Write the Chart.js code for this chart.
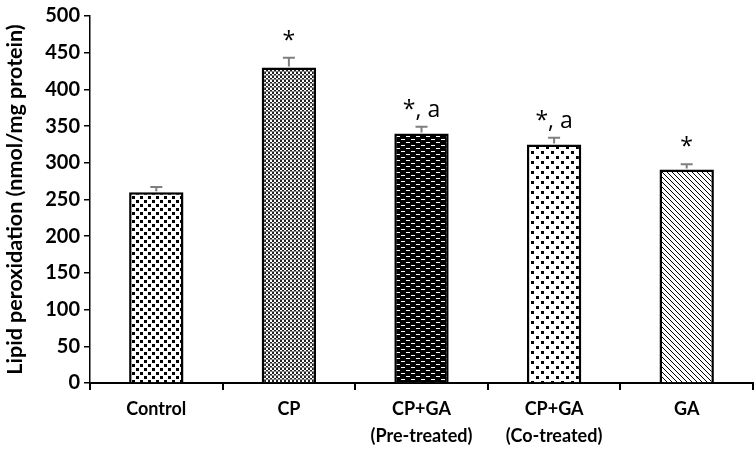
<!DOCTYPE html>
<html>
<head>
<meta charset="utf-8">
<script src="https://cdn.jsdelivr.net/npm/chart.js@4"></script>
<style>
  html, body { margin: 0; padding: 0; background: #fff; }
  #wrap { width: 756px; height: 451px; }
</style>
</head>
<body>
<div id="wrap"><canvas id="lpoChart"></canvas></div>
<script>
const groups = [['Control'], ['CP'], ['CP+GA', '(Pre-treated)'], ['CP+GA', '(Co-treated)'], ['GA']];
const lpoValues = [260, 430, 340, 325, 291];
const lpoErrors = [7, 13, 9, 9, 7];
const marks = ['', '*', '*, a', '*, a', '*'];
const yTicks = [0, 50, 100, 150, 200, 250, 300, 350, 400, 450, 500];

const FONT = 'Lato, "Open Sans", sans-serif';

// small canvas tiles used as bar fills
function tile(w, h, draw) {
  const c = document.createElement('canvas');
  c.width = w; c.height = h;
  const g = c.getContext('2d');
  draw(g);
  return document.getElementById('lpoChart').getContext('2d').createPattern(c, 'repeat');
}

const fills = [
  // control: small staggered squares
  tile(8, 8, g => {
    g.fillStyle = '#fff'; g.fillRect(0, 0, 8, 8);
    g.fillStyle = '#000';
    g.fillRect(0, 0, 3, 3);
    g.fillRect(4, 4, 3, 3);
  }),
  // CP: fine checker
  tile(4, 4, g => {
    g.fillStyle = '#fff'; g.fillRect(0, 0, 4, 4);
    g.fillStyle = '#222';
    g.fillRect(0, 0, 2, 2);
    g.fillRect(2, 2, 2, 2);
    g.fillStyle = '#888';
    g.fillRect(0, 3, 4, 1);
  }),
  // pre-treated: black with white dashes
  tile(10, 6, g => {
    g.fillStyle = '#000'; g.fillRect(0, 0, 10, 6);
    g.fillStyle = '#fff';
    g.fillRect(1, 1, 4, 1);
    g.fillRect(6, 4, 4, 1);
  }),
  // co-treated: bigger staggered squares
  tile(10, 10, g => {
    g.fillStyle = '#fff'; g.fillRect(0, 0, 10, 10);
    g.fillStyle = '#000';
    g.fillRect(1, 1, 3, 3);
    g.fillRect(6, 6, 3, 3);
  }),
  // GA: dotted diagonal lines
  tile(5, 5, g => {
    g.fillStyle = '#fff'; g.fillRect(0, 0, 5, 5);
    g.fillStyle = '#000';
    for (let i = 0; i < 5; i++) g.fillRect(i, i, 1, 1);
  })
];

const errorBars = {
  id: 'errorBars',
  afterDatasetsDraw(chart) {
    const { ctx, scales: { x, y } } = chart;
    ctx.save();
    ctx.strokeStyle = '#7f7f7f';
    ctx.lineWidth = 2;
    lpoValues.forEach((v, i) => {
      const px = x.getPixelForValue(i);
      const y0 = y.getPixelForValue(v);
      const y1 = y.getPixelForValue(v + lpoErrors[i]);
      ctx.beginPath();
      ctx.moveTo(px, y0 - 1);
      ctx.lineTo(px, y1);
      ctx.moveTo(px - 6, y1);
      ctx.lineTo(px + 6, y1);
      ctx.stroke();
    });
    ctx.fillStyle = '#000';
    ctx.font = '23px "Open Sans", sans-serif';
    ctx.textAlign = 'center';
    ctx.textBaseline = 'alphabetic';
    marks.forEach((m, i) => {
      if (!m) return;
      const px = x.getPixelForValue(i);
      const py = y.getPixelForValue(lpoValues[i] + lpoErrors[i]);
      ctx.fillText(m, px, py - 10);
    });
    ctx.restore();
  }
};

new Chart(document.getElementById('lpoChart'), {
  type: 'bar',
  data: {
    labels: groups,
    datasets: [{
      data: lpoValues,
      backgroundColor: fills,
      borderColor: '#000',
      borderWidth: 2.5,
      borderSkipped: 'bottom',
      categoryPercentage: 1,
      barPercentage: 0.41
    }]
  },
  options: {
    responsive: true,
    maintainAspectRatio: false,
    animation: false,
    layout: { padding: { top: 10, right: 3, left: 0, bottom: 0 } },
    plugins: { legend: { display: false }, tooltip: { enabled: false } },
    scales: {
      x: {
        grid: { display: true, drawOnChartArea: false, offset: true, color: '#000', lineWidth: 2, tickLength: 7 },
        border: { color: '#000', width: 2 },
        ticks: { color: '#000', font: { family: FONT, size: 18, weight: 'bold', lineHeight: 1.5 }, padding: 6, maxRotation: 0 },
        afterFit(s) { s.height = 68; }
      },
      y: {
        min: 0,
        max: 500,
        afterBuildTicks(s) { s.ticks = yTicks.map(v => ({ value: v })); },
        grid: { display: true, drawOnChartArea: false, color: '#000', lineWidth: 1.5, tickLength: 6 },
        border: { color: '#000', width: 1.5 },
        ticks: { color: '#000', font: { family: FONT, size: 20, weight: 'bold' }, padding: 4 },
        title: {
          display: true,
          text: 'Lipid peroxidation (nmol/mg protein)',
          color: '#000',
          font: { family: FONT, size: 21.5, weight: 'bold' },
          padding: { top: 2, bottom: 0 }
        },
        afterFit(s) { s.width = 90; }
      }
    }
  },
  plugins: [errorBars]
});
</script>
</body>
</html>
